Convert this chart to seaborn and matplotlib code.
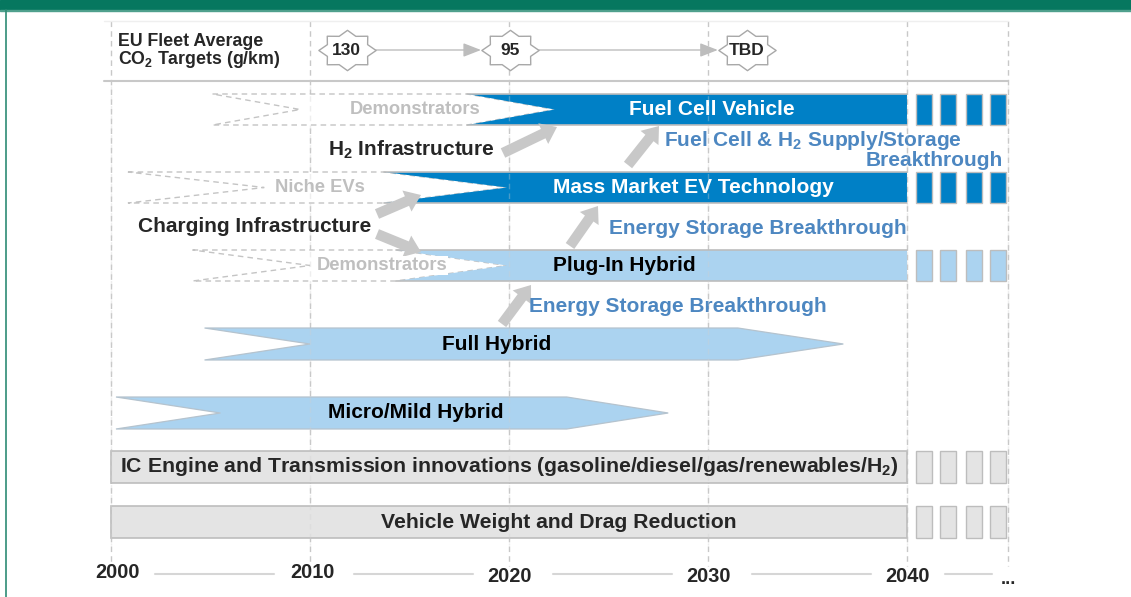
import numpy as np
import matplotlib
matplotlib.use("Agg")
import matplotlib.pyplot as plt
import seaborn as sns
import pandas as pd
from matplotlib.patches import Polygon, Rectangle, FancyArrowPatch
from matplotlib.path import Path
from matplotlib.markers import MarkerStyle

# ---------------- data ----------------
years = [2000, 2010, 2020, 2030, 2040]
year_labels = ["2000", "2010", "2020", "2030", "2040"]
horizon_year = 2045.1
horizon_label = "..."

co2_years = [2011.85, 2020.05, 2031.95]
co2_labels = ["130", "95", "TBD"]

market_labels = ["Fuel Cell Vehicle", "Mass Market EV Technology", "Plug-In Hybrid"]
early_labels = ["Demonstrators", "Niche EVs", "Demonstrators"]
early_start = [2005.1, 2000.85, 2004.1]
early_notch = [2009.5, 2007.7, 2010.0]
market_start = [2017.9, 2013.7, 2014.3]
market_tip = [2022.3, 2019.9, 2019.9]
market_end = [2040, 2040, 2040]

hybrid_labels = ["Full Hybrid", "Micro/Mild Hybrid"]
hybrid_start = [2004.7, 2000.25]
hybrid_notch = [2010.0, 2005.5]
hybrid_head = [2031.5, 2022.9]
hybrid_tip = [2036.8, 2028.0]

base_labels = ["IC Engine and Transmission innovations (gasoline/diesel/gas/renewables/H$_2$)",
               "Vehicle Weight and Drag Reduction"]
base_start = [2000, 2000]
base_end = [2040, 2040]

tail_starts = [2040.45, 2041.66, 2042.96, 2044.17]
tail_width = 0.8

# ---------------- style ----------------
sns.set_theme(style="white")
FAM = ["Liberation Sans", "DejaVu Sans"]
plt.rcParams["font.family"] = FAM
plt.rcParams["mathtext.fontset"] = "custom"
plt.rcParams["mathtext.rm"] = "Liberation Sans:bold"
plt.rcParams["mathtext.it"] = "Liberation Sans:bold"
plt.rcParams["mathtext.bf"] = "Liberation Sans:bold"
plt.rcParams["mathtext.default"] = "rm"

DARK = "#0080C6"
LIGHT = "#ABD3F0"
GREYBAR = "#E4E4E4"
EDGE = "#BDBDBD"
ARROW = "#C8C8C8"
BREAK = "#4D87C1"
GHOST = "#BFBFBF"

W, H = 1131, 597
PX_PER_YEAR = 19.9
X0 = 2000 - 111 / PX_PER_YEAR
X1 = X0 + W / PX_PER_YEAR

fig = plt.figure(figsize=(W / 100, H / 100), dpi=100)
ax = fig.add_axes([0, 0, 1, 1])
ax.set_xlim(X0, X1)
ax.set_ylim(H, 0)
ax.axis("off")

# frame decorations (top green band, left rule)
ax.add_patch(Rectangle((0, 1 - 10 / H), 1, 10 / H, transform=ax.transAxes, color="#06775F",
                       zorder=10, clip_on=False))
ax.add_patch(Rectangle((0, 1 - 11 / H), 1, 1.3 / H, transform=ax.transAxes, color="#4FA08D",
                       zorder=10, clip_on=False))
ax.plot([6 / W, 6 / W], [0, 1 - 10 / H], transform=ax.transAxes, color="#2E8B74", lw=1.2, zorder=10)

# grid lines
grid_x = years + [horizon_year]
for gx in grid_x:
    ax.plot([gx, gx], [21, 566], color="#C8C8C8", lw=1, ls=(0, (4, 3)), zorder=0.5)
    ax.plot([gx, gx], [86, 545], color="#D0D0D0", lw=1, ls=(0, (4, 3)), alpha=0.35, zorder=6)

# header
ax.plot([1999.65, horizon_year], [21, 21], color="#EFEFEF", lw=1, zorder=1)
ax.plot([1999.65, horizon_year], [80.5, 80.5], color="#C8C8C8", lw=1.5, zorder=1)
ax.text(2000.35, 41, "EU Fleet Average", ha="left", va="center",
        fontsize=12.8, fontweight="bold", family=FAM, zorder=5)
ax.text(2000.35, 59.5, "CO$_2$ Targets (g/km)", ha="left", va="center",
        fontsize=12.8, fontweight="bold", family=FAM, zorder=5)

# star markers via seaborn
ang = np.arange(16) * np.pi / 8 + np.pi / 2
rad = np.where(np.arange(16) % 2 == 0, 1.0, 0.76)
verts = np.c_[1.42 * rad * np.cos(ang), rad * np.sin(ang)]
verts = np.vstack([verts, verts[:1]])
codes = [Path.MOVETO] + [Path.LINETO] * 15 + [Path.CLOSEPOLY]
star = MarkerStyle(Path(verts, codes))
star_df = pd.DataFrame({"year": co2_years, "y": [50] * 3, "label": co2_labels})
half_w = 29 / PX_PER_YEAR
for a, b in zip(co2_years[:-1], co2_years[1:]):
    ax.annotate("", xy=(b - half_w, 50), xytext=(a + half_w, 50),
                arrowprops=dict(arrowstyle="-|>,head_length=0.9,head_width=0.35", color="#BDBDBD", lw=1,
                                shrinkA=0, shrinkB=0), zorder=2)
sns.scatterplot(data=star_df, x="year", y="y", marker=star, s=1700, color="white",
                edgecolor="#A8A8A8", linewidth=1, ax=ax, zorder=3, legend=False)
for _, r in star_df.iterrows():
    ax.text(r["year"], 50.5, r["label"], ha="center", va="center", fontsize=12.5,
            fontweight="bold", family=FAM, zorder=4)

# market rows (emerging ghost + main bar)
market_top = [94, 172, 250]
bar_h = 31
market_colors = [DARK, DARK, LIGHT]
market_text = ["white", "white", "black"]
market_label_x = [2030.2, 2029.25, 2025.8]
early_label_x = [2015.3, 2010.5, 2013.6]
for i in range(3):
    t, b = market_top[i], market_top[i] + bar_h
    m = (t + b) / 2
    ghost = Polygon([(early_start[i], t), (market_start[i], t), (market_tip[i], m),
                     (market_start[i], b), (early_start[i], b), (early_notch[i], m)],
                    closed=True, facecolor="white", edgecolor="#C4C4C4", lw=1, ls=(0, (4, 3)), zorder=2)
    ax.add_patch(ghost)
    main = Polygon([(market_start[i], t), (market_end[i], t), (market_end[i], b),
                    (market_start[i], b), (market_tip[i], m)],
                   closed=True, facecolor=market_colors[i], edgecolor="none", zorder=3)
    ax.add_patch(main)
    ax.plot([market_start[i], market_end[i]], [t, t], color=EDGE, lw=1.2, zorder=3.5)
    ax.plot([market_start[i], market_end[i]], [b, b], color=EDGE, lw=1.2, zorder=3.5)
    for ts in tail_starts:
        ax.add_patch(Rectangle((ts, t), tail_width, bar_h, facecolor=market_colors[i],
                               edgecolor=EDGE, lw=1, zorder=3))
    ax.text(market_label_x[i], m, market_labels[i], ha="center", va="center", fontsize=15,
            fontweight="bold", color=market_text[i], family=FAM, zorder=5)
    ax.text(early_label_x[i], m, early_labels[i], ha="center", va="center", fontsize=13.2,
            fontweight="bold", color=GHOST, family=FAM, zorder=5,
            bbox=dict(facecolor="white", edgecolor="none", pad=0.5))

# hybrid chevrons
hybrid_top = [328, 397]
hyb_h = 32
hybrid_label_x = [2019.4, 2015.3]
for i in range(2):
    t, b = hybrid_top[i], hybrid_top[i] + hyb_h
    m = (t + b) / 2
    poly = Polygon([(hybrid_start[i], t), (hybrid_head[i], t), (hybrid_tip[i], m),
                    (hybrid_head[i], b), (hybrid_start[i], b), (hybrid_notch[i], m)],
                   closed=True, facecolor=LIGHT, edgecolor="#B5C3CE", lw=0.9, zorder=3)
    ax.add_patch(poly)
    ax.text(hybrid_label_x[i], m, hybrid_labels[i], ha="center", va="center", fontsize=15,
            fontweight="bold", color="black", family=FAM, zorder=5)

# base technology bars
base_top = [451, 506]
base_h = 32
for i in range(2):
    t = base_top[i]
    ax.add_patch(Rectangle((base_start[i], t), base_end[i] - base_start[i], base_h,
                           facecolor=GREYBAR, edgecolor=EDGE, lw=1.2, zorder=3))
    for ts in tail_starts:
        ax.add_patch(Rectangle((ts, t), tail_width, base_h, facecolor=GREYBAR,
                               edgecolor=EDGE, lw=1, zorder=3))
ax.text(2000.45, base_top[0] + base_h / 2, base_labels[0], ha="left", va="center", fontsize=15.3,
        fontweight="bold", family=FAM, zorder=5)
ax.text(2022.5, base_top[1] + base_h / 2, base_labels[1], ha="center", va="center", fontsize=15.2,
        fontweight="bold", family=FAM, zorder=5)

# enablers / breakthroughs
ax.text(2015.1, 150, "H$_2$ Infrastructure", ha="center", va="center", fontsize=15,
        fontweight="bold", family=FAM, zorder=5)
ax.text(2007.2, 226, "Charging Infrastructure", ha="center", va="center", fontsize=15,
        fontweight="bold", family=FAM, zorder=5)
ax.text(2027.8, 141, "Fuel Cell & H$_2$ Supply/Storage", ha="left", va="center", fontsize=15,
        fontweight="bold", color=BREAK, family=FAM, zorder=5)
ax.text(2044.8, 161, "Breakthrough", ha="right", va="center", fontsize=15,
        fontweight="bold", color=BREAK, family=FAM, zorder=5)
ax.text(2032.5, 228, "Energy Storage Breakthrough", ha="center", va="center", fontsize=15,
        fontweight="bold", color=BREAK, family=FAM, zorder=5)
ax.text(2028.5, 306, "Energy Storage Breakthrough", ha="center", va="center", fontsize=15,
        fontweight="bold", color=BREAK, family=FAM, zorder=5)

def px2yr(px):
    return X0 + px / PX_PER_YEAR

arrows = [((503, 153), (557, 127)),
          ((628, 165), (659, 126)),
          ((377, 214), (421, 195)),
          ((377, 234), (421, 252)),
          ((570, 246), (598, 206)),
          ((502, 324), (531, 285))]
for (x1, y1), (x2, y2) in arrows:
    ax.add_patch(FancyArrowPatch((px2yr(x1), y1), (px2yr(x2), y2),
                                 arrowstyle="simple,head_length=1.1,head_width=1.65,tail_width=0.75",
                                 mutation_scale=10, color=ARROW, lw=0, shrinkA=0, shrinkB=0, zorder=4))

# time axis labels
label_x = [2000.35, 2010.1, 2020.05, 2030.0, 2040.05]
label_y = [573, 573, 576, 576, 576]
for lx, lab, ly in zip(label_x, year_labels, label_y):
    ax.text(lx, ly, lab, ha="center", va="center", fontsize=14.4, fontweight="bold", family=FAM, zorder=5)
ax.text(horizon_year, 579, horizon_label, ha="center", va="center", fontsize=13, fontweight="bold",
        family=FAM, zorder=5)
gaps = list(zip(years, years[1:] + [horizon_year]))
for a, b in gaps:
    if b == horizon_year:
        xa, xb = a + 1.9, b - 0.85
    else:
        xa, xb = a + 2.2, b - 1.8
    ax.plot([xa, xb], [573.5, 573.5], color="#D6D6D6", lw=1.5, zorder=2)

fig.savefig("out.png", dpi=100)
